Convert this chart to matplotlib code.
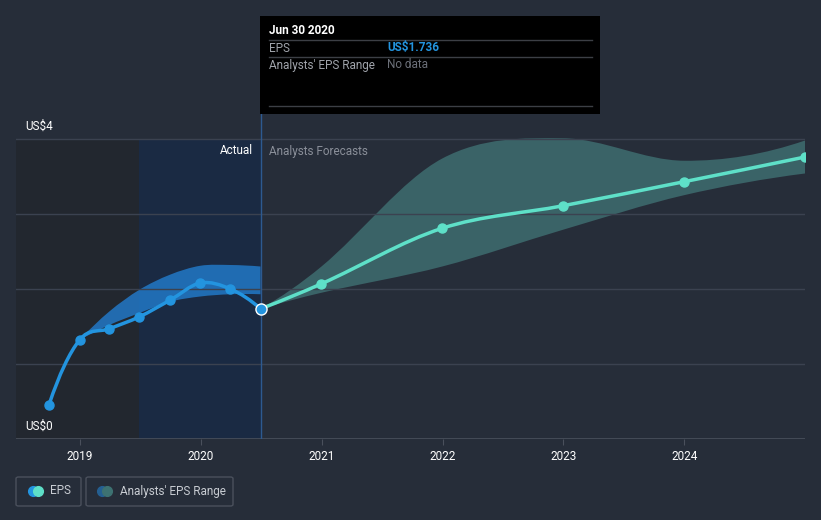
import numpy as np
import matplotlib
matplotlib.use("Agg")
import matplotlib.pyplot as plt
import matplotlib.dates as mdates
from matplotlib.path import Path
from matplotlib.patches import PathPatch, Rectangle, FancyBboxPatch
from matplotlib.lines import Line2D
import datetime as dt

plt.rcParams['font.family'] = ['Roboto', 'DejaVu Sans']

# ---- data ----
hist_dates = ["2018-09-30", "2018-12-31", "2019-03-31", "2019-06-30",
              "2019-09-30", "2019-12-31", "2020-03-31", "2020-06-30"]
hist_eps = [0.46, 1.32, 1.47, 1.63, 1.85, 2.08, 2.00, 1.736]

hist_rng_dates = ["2018-12-31", "2019-03-31", "2019-06-30", "2019-09-30",
                  "2019-12-31", "2020-03-31", "2020-06-30"]
hist_rng_hi = [1.32, 1.70, 1.99, 2.19, 2.31, 2.32, 2.30]
hist_rng_lo = [1.32, 1.52, 1.68, 1.83, 1.90, 1.93, 1.93]

fc_dates = ["2020-06-30", "2020-12-31", "2021-12-31", "2022-12-31",
            "2023-12-31", "2024-12-31"]
fc_eps = [1.736, 2.07, 2.81, 3.11, 3.43, 3.76]
fc_hi = [1.736, 2.30, 3.74, 4.01, 3.71, 3.98]
fc_lo = [1.736, 1.95, 2.30, 2.79, 3.25, 3.54]

year_ticks = ["2019", "2020", "2021", "2022", "2023", "2024"]
y_labels = ["US$0", "US$4"]

BG = "#262d39"
GRID = "#3b4250"
BLUE = "#2394df"
TEAL = "#5ee0c8"
FS = 8.5


def to_num(ds):
    return mdates.date2num([dt.datetime.strptime(d, "%Y-%m-%d") for d in ds])


def spline_verts(x, y):
    # cubic bezier pieces through the points, natural slopes at the ends
    x = np.asarray(x, float)
    y = np.asarray(y, float)
    n = len(x)
    m = np.zeros(n)
    for i in range(1, n - 1):
        m[i] = (y[i + 1] - y[i - 1]) / (x[i + 1] - x[i - 1])
    if n > 2:
        m[0] = 2 * (y[1] - y[0]) / (x[1] - x[0]) - m[1]
        m[-1] = 2 * (y[-1] - y[-2]) / (x[-1] - x[-2]) - m[-2]
    else:
        m[:] = (y[1] - y[0]) / (x[1] - x[0])
    verts = [(x[0], y[0])]
    codes = [Path.MOVETO]
    for i in range(n - 1):
        h = x[i + 1] - x[i]
        verts += [(x[i] + h / 3, y[i] + m[i] * h / 3),
                  (x[i + 1] - h / 3, y[i + 1] - m[i + 1] * h / 3),
                  (x[i + 1], y[i + 1])]
        codes += [Path.CURVE4] * 3
    return verts, codes


def band_path(x, hi, lo):
    v1, c1 = spline_verts(x, hi)
    v2, c2 = spline_verts(x[::-1], lo[::-1])
    c2[0] = Path.LINETO
    verts = v1 + v2 + [v1[0]]
    codes = c1 + c2 + [Path.CLOSEPOLY]
    return Path(verts, codes)


fig = plt.figure(figsize=(8.21, 5.20), dpi=100, facecolor=BG)
W, H = 821, 520
ytop = 4 + 25 / 75.0
ax = fig.add_axes([16 / W, 1 - 439 / H, (805 - 16) / W, (439 - 114) / H])
ax.set_facecolor(BG)

xmin = mdates.date2num(dt.datetime(2018, 6, 22))
xmax = mdates.date2num(dt.datetime(2024, 12, 31))
ax.set_xlim(xmin, xmax)
ax.set_ylim(0, ytop)

hx = to_num(hist_dates)
rx = to_num(hist_rng_dates)
fx = to_num(fc_dates)

# shaded past regions
split = mdates.date2num(dt.datetime(2019, 6, 30))
now = mdates.date2num(dt.datetime(2020, 6, 30))
ax.axvspan(xmin, split, ymin=0, ymax=4 / ytop, color="#22272f", zorder=0, lw=0)
ax.axvspan(split, now, ymin=0, ymax=4 / ytop, color="#1a2a43", zorder=0, lw=0)

# bands
ax.add_patch(PathPatch(band_path(rx, np.array(hist_rng_hi), np.array(hist_rng_lo)),
                       facecolor="#2278c6", alpha=0.85, lw=0, zorder=1))
ax.add_patch(PathPatch(band_path(fx, np.array(fc_hi), np.array(fc_lo)),
                       facecolor="#3a6367", lw=0, zorder=1))

# grid
for v in [1, 2, 3, 4]:
    ax.axhline(v, color=GRID, lw=1, zorder=2)
ax.axhline(0, color="#4a505c", lw=1.2, zorder=2)
ax.axvline(now, ymin=0, ymax=1, color="#2d5a90", lw=1, zorder=2)

# lines
v, c = spline_verts(hx, hist_eps)
ax.add_patch(PathPatch(Path(v, c), facecolor="none", edgecolor=BLUE, lw=2.5, zorder=4))
ax.plot(hx[:-1], hist_eps[:-1], "o", color=BLUE, ms=6.5, zorder=5)
v, c = spline_verts(fx, fc_eps)
ax.add_patch(PathPatch(Path(v, c), facecolor="none", edgecolor=TEAL, lw=2.5, zorder=4))
ax.plot(fx[1:], fc_eps[1:], "o", color=TEAL, ms=6.5, zorder=5)
ax.plot(hx[-1], hist_eps[-1], "o", color=BLUE, ms=8, mec="white", mew=1, zorder=6)

# axes styling
for s in ax.spines.values():
    s.set_visible(False)
ax.set_yticks([])
ticks = to_num([t + "-01-01" for t in year_ticks])
ax.set_xticks(ticks)
ax.set_xticklabels(year_ticks, color="white", fontsize=FS)
ax.tick_params(axis="x", length=4, color="#4a505c", pad=4)

ax.text(9 / 789, 0 + 0.17, y_labels[0], transform=ax.get_yaxis_transform(),
        color="white", fontsize=FS, va="center", ha="left")
ax.text(9 / 789, 4 + 0.17, y_labels[1], transform=ax.get_yaxis_transform(),
        color="white", fontsize=FS, va="center", ha="left")
ax.text(now - 8 / 0.3315, 3.84, "Actual", color="white", fontsize=FS, ha="right", va="center")
ax.text(now + 8 / 0.3315, 3.84, "Analysts Forecasts", color="#8a8f99", fontsize=FS,
        ha="left", va="center")

# tooltip
fig.patches.append(Rectangle((260 / W, 1 - 114 / H), 340 / W, 98 / H,
                             transform=fig.transFigure, facecolor="black", zorder=10))
for yy in [40, 57, 106]:
    fig.add_artist(Line2D([269 / W, 592 / W], [1 - yy / H, 1 - yy / H],
                          color="#3c3f45", lw=1, zorder=11))
fig.text(269 / W, 1 - 31 / H, "Jun 30 2020", color="white", fontsize=FS,
         fontweight="bold", va="center", zorder=12)
fig.text(269 / W, 1 - 48 / H, "EPS", color="#a0a4ab", fontsize=FS, va="center", zorder=12)
fig.text(387 / W, 1 - 48 / H, "US$1.736", color=BLUE, fontsize=FS, fontweight="bold",
         va="center", zorder=12)
fig.text(269 / W, 1 - 65 / H, "Analysts' EPS Range", color="#a0a4ab", fontsize=FS,
         va="center", zorder=12)
fig.text(387 / W, 1 - 65 / H, "No data", color="#6c7079", fontsize=FS, va="center", zorder=12)

# legend
for x0, x1 in [(16, 81), (86, 233)]:
    fig.patches.append(FancyBboxPatch((x0 / W, 1 - 506 / H), (x1 - x0) / W, 29 / H,
                                      boxstyle="round,pad=0,rounding_size=0.003",
                                      transform=fig.transFigure, facecolor="none",
                                      edgecolor="#4a505c", lw=1))
fig.add_artist(Line2D([33 / W], [1 - 491 / H], marker="o", ms=7, color=BLUE, lw=0))
fig.add_artist(Line2D([38 / W], [1 - 491 / H], marker="o", ms=7, color=TEAL, lw=0))
fig.text(50 / W, 1 - 491 / H, "EPS", color="#c8ccd2", fontsize=FS, va="center")
fig.add_artist(Line2D([102 / W], [1 - 491 / H], marker="o", ms=7, color="#245f92", lw=0))
fig.add_artist(Line2D([107 / W], [1 - 491 / H], marker="o", ms=7, color="#3d7272", lw=0))
fig.text(120 / W, 1 - 491 / H, "Analysts' EPS Range", color="#c8ccd2", fontsize=FS, va="center")

fig.savefig("out.png", dpi=100, facecolor=BG)
